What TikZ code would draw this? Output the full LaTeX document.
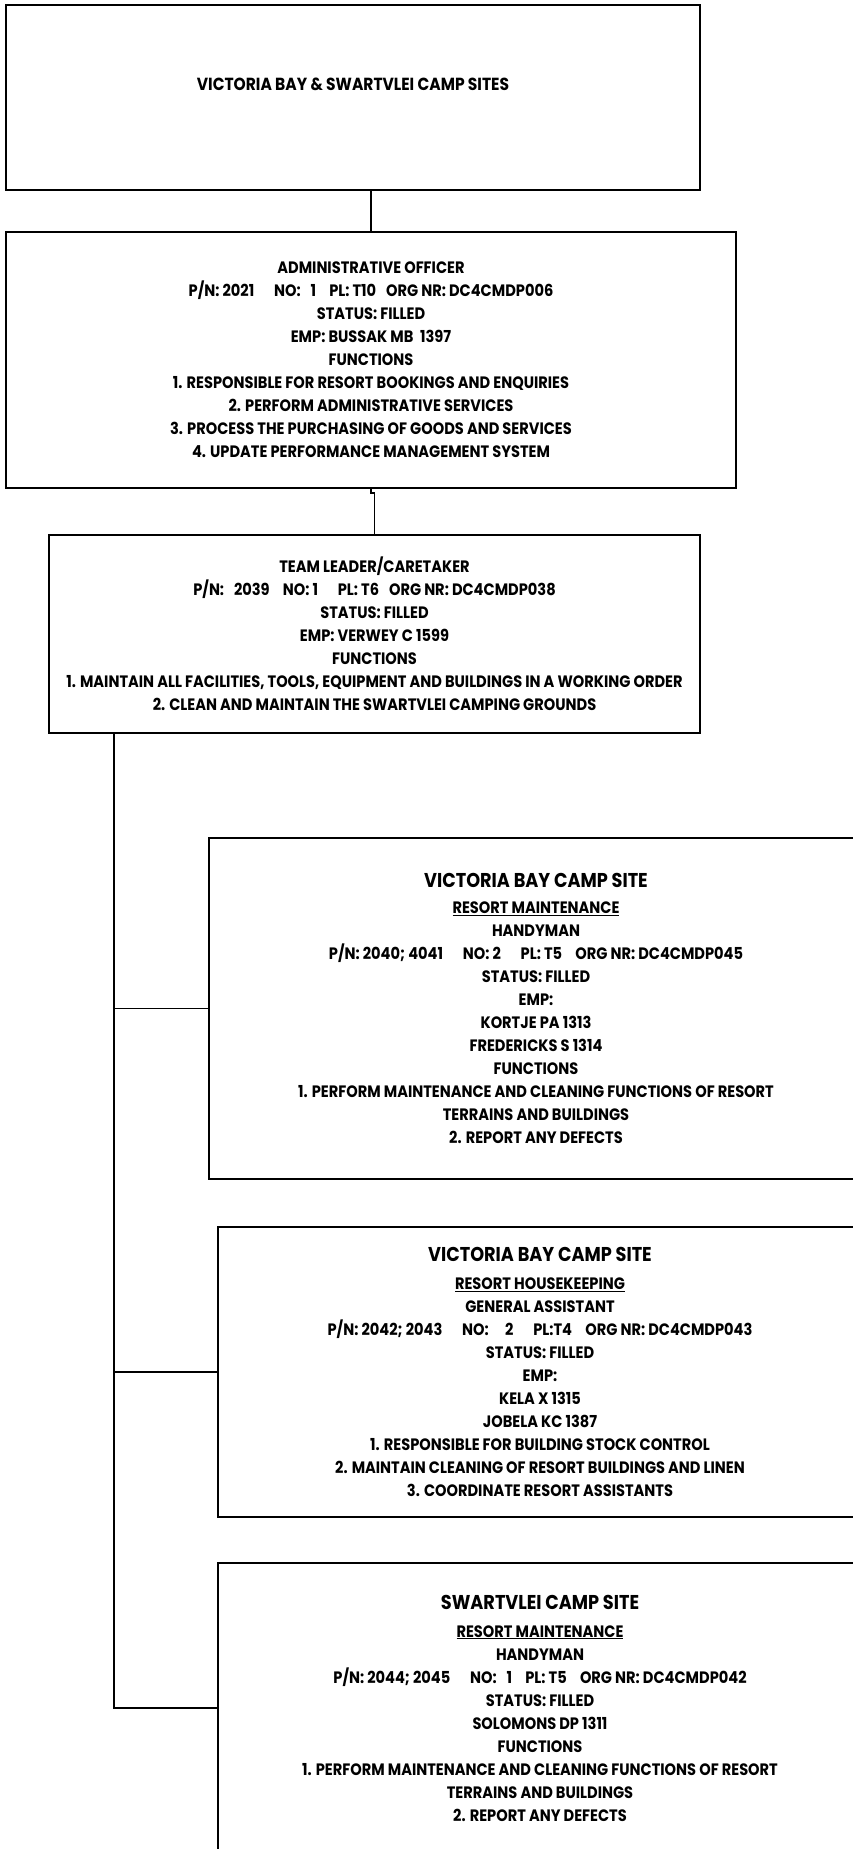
\documentclass[tikz,border=0pt]{standalone}
\usepackage{fontspec}
\setmainfont{Poppins}[FakeStretch=0.885]
\begin{document}
\begin{tikzpicture}[x=1pt,y=-1pt,
    unitbox/.style={draw,line width=2.2pt,rectangle,align=center,
      font=\bfseries\fontsize{16.5}{23}\selectfont,inner sep=0pt},
    title/.style={font=\bfseries\fontsize{17.5}{20}\selectfont},
    link/.style={line width=1.8pt}]
  \useasboundingbox (0,0) rectangle (853,1849);
  \node[unitbox,minimum width=694,minimum height=185] (site) at (353,97.5) {};
  \node[title] (sitename) at (353,84) {VICTORIA BAY \& SWARTVLEI CAMP SITES};
  \node[unitbox,minimum width=730,minimum height=256] (admin) at (371,360)
    {ADMINISTRATIVE OFFICER\\
     P/N: 2021\hspace{1.2em}NO:\hspace{0.6em}1\hspace{0.8em}PL: T10\hspace{0.6em}ORG NR: DC4CMDP006\\
     STATUS: FILLED\\
     EMP: BUSSAK MB\hspace{0.4em}1397\\
     FUNCTIONS\\
     1. RESPONSIBLE FOR RESORT BOOKINGS AND ENQUIRIES\\
     2. PERFORM ADMINISTRATIVE SERVICES\\
     3. PROCESS THE PURCHASING OF GOODS AND SERVICES\\
     4. UPDATE PERFORMANCE MANAGEMENT SYSTEM};
  \node[unitbox,minimum width=651,minimum height=198] (leader) at (374.5,634)
    {TEAM LEADER/CARETAKER\\
     P/N:\hspace{0.6em}2039\hspace{0.8em}NO: 1\hspace{1.2em}PL: T6\hspace{0.6em}ORG NR: DC4CMDP038\\
     STATUS: FILLED\\
     EMP: VERWEY C 1599\\
     FUNCTIONS\\
     1. MAINTAIN ALL FACILITIES, TOOLS, EQUIPMENT AND BUILDINGS IN A WORKING ORDER\\
     2. CLEAN AND MAINTAIN THE SWARTVLEI CAMPING GROUNDS};
  \node[unitbox,minimum width=654,minimum height=341] (vbmaint) at (536,1008.5)
    {{\fontsize{20}{23}\selectfont VICTORIA BAY CAMP SITE}\\[3pt]
     \underline{RESORT MAINTENANCE}\\
     HANDYMAN\\
     P/N: 2040; 4041\hspace{1.2em}NO: 2\hspace{1.2em}PL: T5\hspace{0.8em}ORG NR: DC4CMDP045\\
     STATUS: FILLED\\
     EMP:\\
     KORTJE PA 1313\\
     FREDERICKS S 1314\\
     FUNCTIONS\\
     1. PERFORM MAINTENANCE AND CLEANING FUNCTIONS OF RESORT\\
     TERRAINS AND BUILDINGS\\
     2. REPORT ANY DEFECTS};
  \node[unitbox,minimum width=644,minimum height=290] (vbhouse) at (540,1372)
    {{\fontsize{20}{23}\selectfont VICTORIA BAY CAMP SITE}\\[5pt]
     \underline{RESORT HOUSEKEEPING}\\
     GENERAL ASSISTANT\\
     P/N: 2042; 2043\hspace{1.2em}NO:\hspace{1em}2\hspace{1.2em}PL:T4\hspace{0.8em}ORG NR: DC4CMDP043\\
     STATUS: FILLED\\
     EMP:\\
     KELA X 1315\\
     JOBELA KC 1387\\
     1. RESPONSIBLE FOR BUILDING STOCK CONTROL\\
     2. MAINTAIN CLEANING OF RESORT BUILDINGS AND LINEN\\
     3. COORDINATE RESORT ASSISTANTS};
  \node[unitbox,minimum width=644,minimum height=290] (swmaint) at (540,1708)
    {{\fontsize{20}{23}\selectfont SWARTVLEI CAMP SITE}\\[5pt]
     \underline{RESORT MAINTENANCE}\\
     HANDYMAN\\
     P/N: 2044; 2045\hspace{1.2em}NO:\hspace{0.6em}1\hspace{0.8em}PL: T5\hspace{0.8em}ORG NR: DC4CMDP042\\
     STATUS: FILLED\\
     SOLOMONS DP 1311\\
     FUNCTIONS\\
     1. PERFORM MAINTENANCE AND CLEANING FUNCTIONS OF RESORT\\
     TERRAINS AND BUILDINGS\\
     2. REPORT ANY DEFECTS};
  \coordinate (trunk) at ([xshift=66pt]leader.south west);
  \begin{scope}[link]
    \draw (site.south -| admin.north) -- (admin.north);
    \draw (admin.south) -- ++(0,4) -| (leader.north);
    \draw (trunk) |- (vbmaint.west);
    \draw (trunk) |- (vbhouse.west);
    \draw (trunk) |- (swmaint.west);
  \end{scope}
\end{tikzpicture}
\end{document}
